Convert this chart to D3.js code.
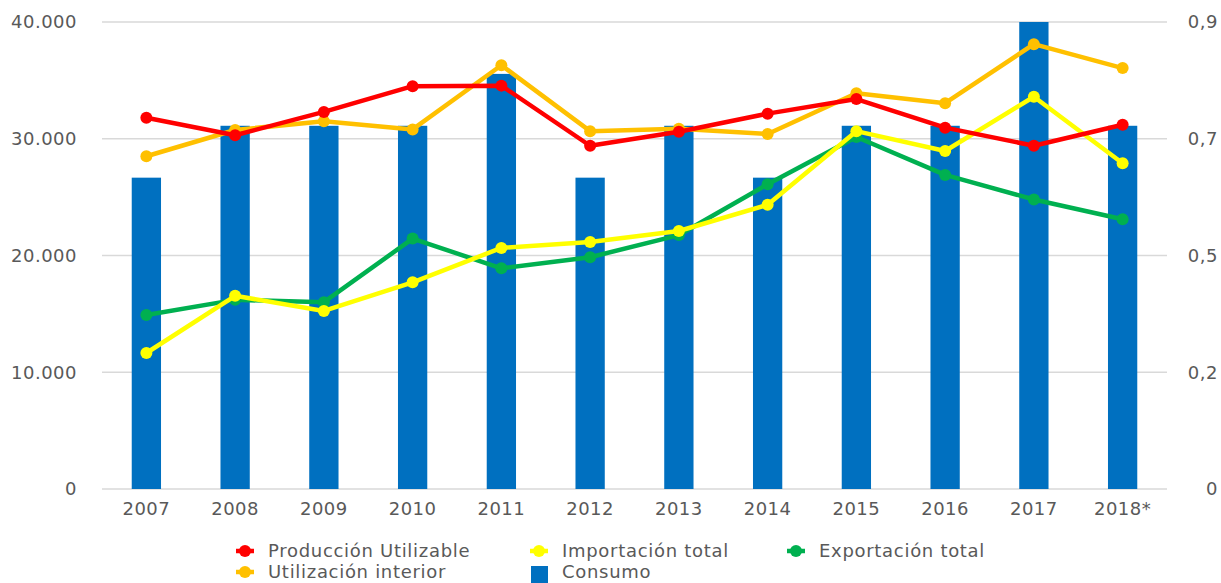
<!DOCTYPE html>
<html lang="es">
<head>
<meta charset="UTF-8">
<title>Producción, comercio y consumo</title>
<script src="https://d3js.org/d3.v7.min.js"></script>
<style>
  body { margin: 0; background: #fff; }
  svg { display: block; font-family: "DejaVu Sans", sans-serif; }
  .tick text, .legend text { fill: #595959; }
</style>
</head>
<body>
<div id="chart"></div>
<script>
  // categories
  var years = ['2007', '2008', '2009', '2010', '2011', '2012', '2013', '2014', '2015', '2016', '2017', '2018*'];

  // line series (left axis)
  var produccion = [31800, 30300, 32300, 34500, 34550, 29400, 30600, 32150, 33400, 30950, 29400, 31200];
  var utilizacion = [28500, 30750, 31500, 30800, 36300, 30650, 30850, 30400, 33900, 33050, 38100, 36050];
  var importacion = [11650, 16550, 15250, 17700, 20650, 21150, 22100, 24350, 30650, 28950, 33600, 27900];
  var exportacion = [14900, 16200, 16000, 21450, 18900, 19850, 21750, 26100, 30150, 26900, 24800, 23100];

  // bar series (right axis)
  var consumo = [0.6, 0.7, 0.7, 0.7, 0.8, 0.6, 0.7, 0.6, 0.7, 0.7, 0.9, 0.7];

  // tick values
  var leftTicks = [0, 10000, 20000, 30000, 40000];
  var rightTicks = [0, 0.225, 0.45, 0.675, 0.9];

  var width = 1221, height = 583;
  var margin = {top: 22, right: 54, bottom: 94, left: 102};

  var es = d3.formatLocale({decimal: ',', thousands: '.', grouping: [3], currency: ['', '€']});
  var fmtLeft = es.format(',.0f');
  var fmtRight = es.format('.1~f');

  var svg = d3.select('#chart').append('svg')
    .attr('width', width)
    .attr('height', height);

  var x = d3.scaleBand()
    .domain(years)
    .range([margin.left, width - margin.right]);

  var yLeft = d3.scaleLinear()
    .domain([0, 40000])
    .range([height - margin.bottom, margin.top]);

  var yRight = d3.scaleLinear()
    .domain([0, 0.9])
    .range([height - margin.bottom, margin.top]);

  /** gridlines */
  svg.append('g')
    .selectAll('line')
    .data(leftTicks)
    .enter().append('line')
    .attr('x1', margin.left)
    .attr('x2', width - margin.right)
    .attr('y1', function (d) { return yLeft(d); })
    .attr('y2', function (d) { return yLeft(d); })
    .attr('stroke', '#d9d9d9')
    .attr('stroke-width', 1.5);

  /** axes */
  var leftAxis = svg.append('g')
    .attr('transform', 'translate(' + (margin.left - 25) + ',0)')
    .call(d3.axisLeft(yLeft).tickValues(leftTicks).tickFormat(fmtLeft).tickSize(0).tickPadding(0));

  var rightAxis = svg.append('g')
    .attr('transform', 'translate(' + (width - 3) + ',0)')
    .call(d3.axisLeft(yRight).tickValues(rightTicks).tickFormat(fmtRight).tickSize(0).tickPadding(0));

  var bottomAxis = svg.append('g')
    .attr('transform', 'translate(0,' + (height - margin.bottom) + ')')
    .call(d3.axisBottom(x).tickSize(0).tickPadding(13));

  [leftAxis, rightAxis, bottomAxis].forEach(function (ax) {
    ax.select('.domain').remove();
    ax.selectAll('text')
      .style('font-size', '18px')
      .style('letter-spacing', '0.5px')
      .style('font-family', '"DejaVu Sans", sans-serif');
  });

  /** bars: Consumo */
  var barW = x.bandwidth() * 0.33;
  svg.append('g')
    .selectAll('rect')
    .data(consumo)
    .enter().append('rect')
    .attr('x', function (d, i) { return x(years[i]) + (x.bandwidth() - barW) / 2; })
    .attr('y', function (d) { return yRight(d); })
    .attr('width', barW)
    .attr('height', function (d) { return yRight(0) - yRight(d); })
    .attr('fill', '#0070c0');

  /** lines */
  var series = [
    {name: 'Utilización interior', values: utilizacion, color: '#ffc000'},
    {name: 'Exportación total', values: exportacion, color: '#00b050'},
    {name: 'Importación total', values: importacion, color: '#ffff00'},
    {name: 'Producción Utilizable', values: produccion, color: '#ff0000'}
  ];

  var cx = function (i) { return x(years[i]) + x.bandwidth() / 2; };
  var line = d3.line()
    .x(function (d, i) { return cx(i); })
    .y(function (d) { return yLeft(d); });

  series.forEach(function (s) {
    var g = svg.append('g');
    g.append('path')
      .datum(s.values)
      .attr('d', line)
      .attr('fill', 'none')
      .attr('stroke', s.color)
      .attr('stroke-width', 4.5)
      .attr('stroke-linejoin', 'round');
    g.selectAll('circle')
      .data(s.values)
      .enter().append('circle')
      .attr('cx', function (d, i) { return cx(i); })
      .attr('cy', function (d) { return yLeft(d); })
      .attr('r', 6)
      .attr('fill', s.color);
  });

  /** legend */
  var legendItems = [
    {name: 'Producción Utilizable', color: '#ff0000', type: 'line', x: 245, y: 551},
    {name: 'Importación total', color: '#ffff00', type: 'line', x: 539, y: 551},
    {name: 'Exportación total', color: '#00b050', type: 'line', x: 796, y: 551},
    {name: 'Utilización interior', color: '#ffc000', type: 'line', x: 245, y: 572},
    {name: 'Consumo', color: '#0070c0', type: 'bar', x: 539, y: 572}
  ];

  var legend = svg.append('g').classed('legend', true);
  var item = legend.selectAll('g')
    .data(legendItems)
    .enter().append('g')
    .attr('transform', function (d) { return 'translate(' + d.x + ',' + d.y + ')'; });

  item.filter(function (d) { return d.type === 'line'; })
    .append('line')
    .attr('x1', -9).attr('x2', 9)
    .attr('stroke', function (d) { return d.color; })
    .attr('stroke-width', 4.5);
  item.filter(function (d) { return d.type === 'line'; })
    .append('circle')
    .attr('r', 6)
    .attr('fill', function (d) { return d.color; });
  item.filter(function (d) { return d.type === 'bar'; })
    .append('rect')
    .attr('x', -8).attr('y', -6)
    .attr('width', 17).attr('height', 17)
    .attr('fill', function (d) { return d.color; });

  item.append('text')
    .attr('x', 23)
    .attr('dy', '0.35em')
    .style('font-size', '18px')
    .style('letter-spacing', '0.7px')
    .text(function (d) { return d.name; });
</script>
</body>
</html>
